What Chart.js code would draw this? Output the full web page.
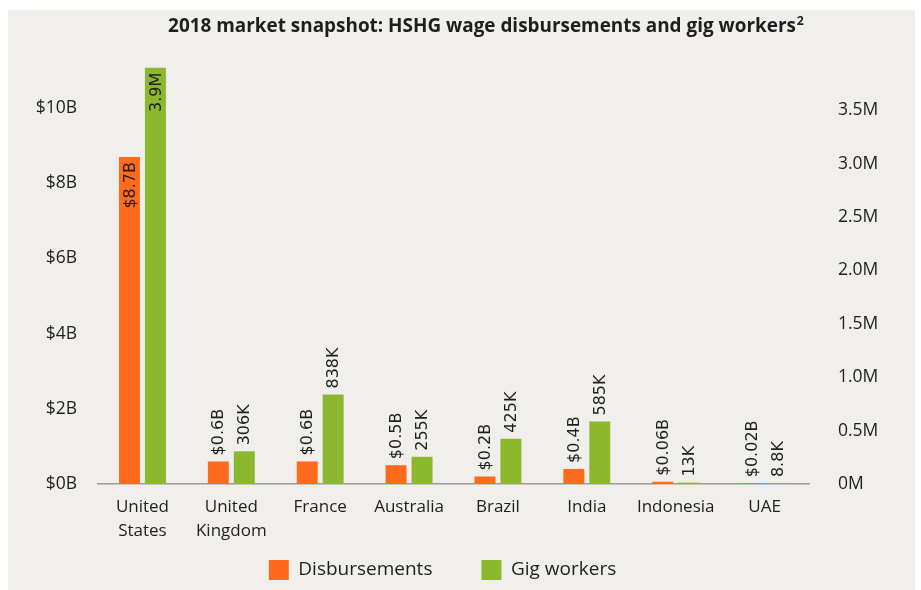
<!DOCTYPE html>
<html><head><meta charset="utf-8">
<script src="https://cdn.jsdelivr.net/npm/chart.js@4.4.1/dist/chart.umd.min.js"></script>
<style>html,body{margin:0;padding:0;background:#fff;}canvas{display:block;}</style>
</head><body>
<canvas id="c" width="921" height="590"></canvas>
<script>
const categories = [['United','States'],['United','Kingdom'],['France'],['Australia'],['Brazil'],['India'],['Indonesia'],['UAE']];
const disbursements = [8.7, 0.6, 0.6, 0.5, 0.2, 0.4, 0.06, 0.02];          // $ billions
const gigWorkers = [3.9, 0.306, 0.838, 0.255, 0.425, 0.585, 0.013, 0.0088]; // millions
const disbLabels = ['$8.7B','$0.6B','$0.6B','$0.5B','$0.2B','$0.4B','$0.06B','$0.02B'];
const gigLabels = ['3.9M','306K','838K','255K','425K','585K','13K','8.8K'];
const leftTicks = [0, 2, 4, 6, 8, 10];
const leftTickLabels = ['$0B','$2B','$4B','$6B','$8B','$10B'];
const rightTicks = [0, 0.5, 1, 1.5, 2, 2.5, 3, 3.5];
const rightTickLabels = ['0M','0.5M','1.0M','1.5M','2.0M','2.5M','3.0M','3.5M'];
const titleText = '2018 market snapshot: HSHG wage disbursements and gig workers';
const titleSup = '2';

const ORANGE = '#FF6B1C';
const GREEN = '#8CB82F';
const TEXT = '#1e1e1e';

const panelPlugin = {
  id: 'panel',
  beforeUpdate(chart) {
    const lg = chart.legend;
    if (lg && !lg._fitWrapped) {
      const f = lg.fit;
      lg.fit = function () { f.call(this); this.height = 40; };
      lg._fitWrapped = true;
    }
  },
  afterLayout(chart) {
    const lg = chart.legend;
    if (lg) { lg.top = 511; lg.bottom = 590; lg.height = 79; }
  },
  beforeDraw(chart) {
    const ctx = chart.ctx;
    ctx.save();
    ctx.fillStyle = '#f0efeb';
    ctx.fillRect(8, 10, 907, 580);
    ctx.restore();
  }
};

const titlePlugin = {
  id: 'customTitle',
  afterDraw(chart) {
    const ctx = chart.ctx;
    ctx.save();
    let size = 17;
    ctx.font = 'bold ' + size + 'px "Open Sans"';
    let w = ctx.measureText(titleText).width;
    size = size * 628 / w;
    ctx.font = 'bold ' + size + 'px "Open Sans"';
    w = ctx.measureText(titleText).width;
    ctx.font = 'bold ' + (size * 0.65) + 'px "Open Sans"';
    const ws = ctx.measureText(titleSup).width;
    const x0 = 486 - (w + ws + 1) / 2;
    ctx.fillStyle = TEXT;
    ctx.textBaseline = 'alphabetic';
    ctx.textAlign = 'left';
    ctx.font = 'bold ' + size + 'px "Open Sans"';
    ctx.fillText(titleText, x0, 32);
    ctx.font = 'bold ' + (size * 0.65) + 'px "Open Sans"';
    ctx.fillText(titleSup, x0 + w + 1, 25);
    ctx.restore();
  }
};

const barLabelPlugin = {
  id: 'barLabels',
  afterDatasetsDraw(chart) {
    const ctx = chart.ctx;
    chart.data.datasets.forEach((ds, di) => {
      const meta = chart.getDatasetMeta(di);
      meta.data.forEach((bar, i) => {
        const txt = ds.valueLabels[i];
        const h = bar.base - bar.y;
        ctx.save();
        ctx.translate(bar.x, bar.y);
        ctx.rotate(-Math.PI / 2);
        ctx.font = '16px "DejaVu Sans"';
        ctx.fillStyle = TEXT;
        ctx.textBaseline = 'middle';
        if (h > 200) {
          ctx.textAlign = 'right';
          ctx.fillText(txt, -5, 1);
        } else {
          ctx.textAlign = 'left';
          ctx.fillText(txt, 6, 1);
        }
        ctx.restore();
      });
    });
  }
};

new Chart(document.getElementById('c'), {
  type: 'bar',
  data: {
    labels: categories,
    datasets: [
      { label: 'Disbursements', data: disbursements, valueLabels: disbLabels, backgroundColor: ORANGE, yAxisID: 'y',
        categoryPercentage: 0.584, barPercentage: 0.808 },
      { label: 'Gig workers', data: gigWorkers, valueLabels: gigLabels, backgroundColor: GREEN, yAxisID: 'y1',
        categoryPercentage: 0.584, barPercentage: 0.808 }
    ]
  },
  options: {
    responsive: false,
    animation: false,
    devicePixelRatio: 1,
    layout: { padding: { top: 57, left: 0, right: 36, bottom: 2 } },
    plugins: {
      title: { display: false },
      tooltip: { enabled: false },
      legend: {
        position: 'bottom',
        labels: {
          boxWidth: 20, boxHeight: 20, padding: 49,
          color: TEXT,
          font: { family: '"Open Sans"', size: 19 }
        }
      }
    },
    scales: {
      x: {
        grid: { display: false },
        border: { display: true, color: '#9c9c9c', width: 1.5 },
        ticks: { color: TEXT, font: { family: '"Open Sans"', size: 17, lineHeight: 1.42 }, padding: 3,
                 autoSkip: false, maxRotation: 0, minRotation: 0 },
        afterFit(scale) { scale.height = 64; }
      },
      y: {
        position: 'left', min: 0, max: 11.36,
        grid: { display: false },
        border: { display: false },
        afterBuildTicks(scale) { scale.ticks = leftTicks.map(v => ({ value: v })); },
        ticks: { color: TEXT, font: { family: '"Open Sans"', size: 17.5 }, padding: 13,
                 callback(v) { const k = leftTicks.indexOf(v); return k >= 0 ? leftTickLabels[k] : ''; } },
        afterFit(scale) { scale.width = 98; }
      },
      y1: {
        position: 'right', min: 0, max: 4.0,
        grid: { display: false },
        border: { display: false },
        afterBuildTicks(scale) { scale.ticks = rightTicks.map(v => ({ value: v })); },
        ticks: { color: TEXT, font: { family: '"Open Sans"', size: 17.5 }, padding: 21,
                 callback(v) { const k = rightTicks.indexOf(v); return k >= 0 ? rightTickLabels[k] : ''; } },
        afterFit(scale) { scale.width = 76; }
      }
    }
  },
  plugins: [panelPlugin, titlePlugin, barLabelPlugin]
});
</script>
</body></html>
